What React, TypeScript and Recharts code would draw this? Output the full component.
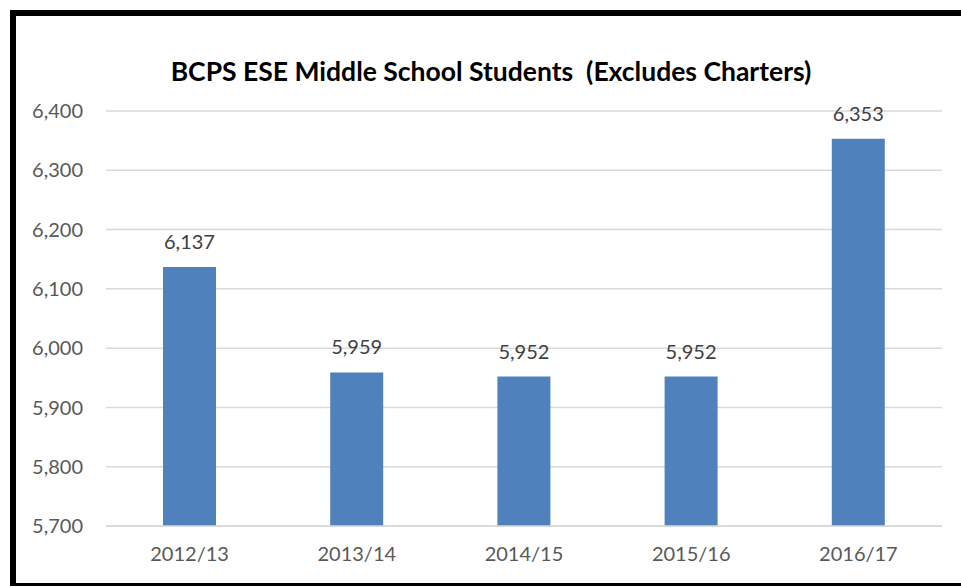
import { BarChart, Bar, XAxis, YAxis, CartesianGrid, LabelList } from "recharts"

const years = ["2012/13", "2013/14", "2014/15", "2015/16", "2016/17"]
const students = [6137, 5959, 5952, 5952, 6353]
const yTicks = [5700, 5800, 5900, 6000, 6100, 6200, 6300, 6400]

const data = years.map((year, i) => ({ year, students: students[i] }))

const font = "Lato, 'Open Sans', sans-serif"
const fmt = (v: number) => v.toLocaleString("en-US")

function App() {
	return (
		<div style={{ position: "absolute", left: 0, top: 0, width: 961, height: 587, background: "#fff", overflow: "hidden" }}>
			<div
				style={{
					position: "absolute",
					left: 10,
					top: 10,
					width: 951,
					height: 576,
					boxSizing: "border-box",
					borderLeft: "6px solid #000",
					borderTop: "6px solid #000",
					borderBottom: "3px solid #000",
				}}
			/>
			<div style={{ position: "absolute", left: 0, top: 0 }}>
				<BarChart width={961} height={587} data={data} margin={{ top: 111, right: 19, bottom: 31, left: 0 }}>
					<text
						x={491}
						y={81}
						textAnchor="middle"
						fontFamily={font}
						fontWeight="bold"
						fontSize={26.5}
						fill="#000"
						style={{ whiteSpace: "pre" }}
					>
						{"BCPS ESE Middle School Students  (Excludes Charters)"}
					</text>
					<CartesianGrid vertical={false} stroke="#d9d9d9" strokeWidth={1.5} />
					<XAxis
						dataKey="year"
						height={30}
						tickSize={0}
						tickMargin={21}
						tickLine={false}
						axisLine={{ stroke: "#d9d9d9", strokeWidth: 1.5 }}
						tick={{ fill: "#595959", fontSize: 20, fontFamily: font }}
					/>
					<YAxis
						width={106}
						domain={[5700, 6400]}
						ticks={yTicks}
						allowDataOverflow
						tickSize={0}
						tickMargin={23}
						tickLine={false}
						axisLine={false}
						tickFormatter={fmt}
						tick={{ fill: "#595959", fontSize: 20, fontFamily: font }}
					/>
					<Bar dataKey="students" fill="#4f81bd" barSize={53} isAnimationActive={false}>
						<LabelList
							dataKey="students"
							position="top"
							offset={18}
							formatter={(v: any) => fmt(Number(v))}
							fill="#404040"
							fontSize={20}
							fontFamily={font}
						/>
					</Bar>
				</BarChart>
			</div>
		</div>
	)
}

export default App
